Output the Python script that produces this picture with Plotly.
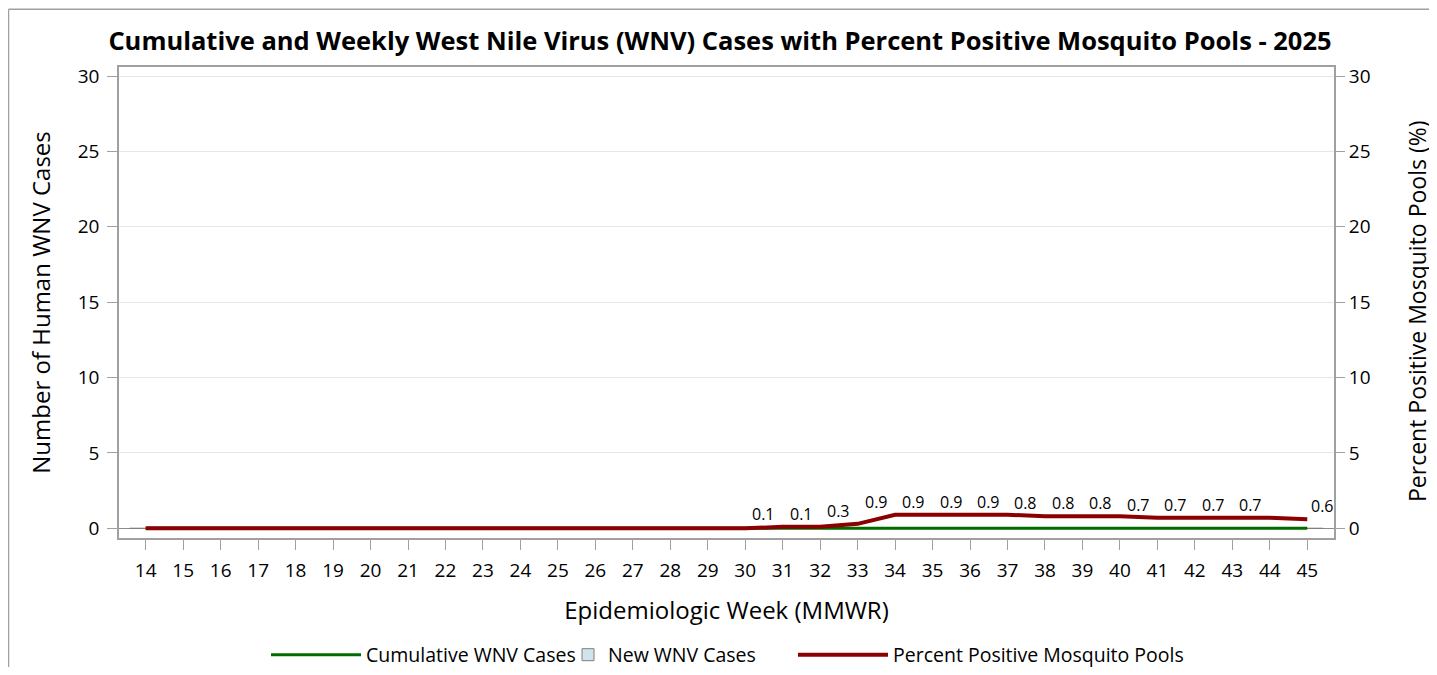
import plotly.graph_objects as go

# ---- data ----
weeks = list(range(14, 46))
cumulative_cases = [0] * 32
new_cases = [0] * 32
pct_positive = [0, 0, 0, 0, 0, 0, 0, 0, 0, 0, 0, 0, 0, 0, 0, 0, 0,
                0.1, 0.1, 0.3, 0.9, 0.9, 0.9, 0.9, 0.8, 0.8, 0.8,
                0.7, 0.7, 0.7, 0.7, 0.6]
y_ticks = [0, 5, 10, 15, 20, 25, 30]

title_text = ("Cumulative and Weekly West Nile Virus (WNV) Cases with "
              "Percent Positive Mosquito Pools - 2025")
y2_title = "Percent Positive Mosquito Pools (%)"

FONT = "Open Sans, Noto Sans, DejaVu Sans, sans-serif"
AXIS_GRAY = "#a0a0a0"
GRID = "#e6e6e6"
RED = "#8b0000"
GREEN = "#006b00"

# sized so the page (with the browser's 8px body margin) does not overflow the window
W, H = 1421, 659
ML, MR, MT, MB = 111, 95, 59, 129
pw, ph = W - ML - MR, H - MT - MB

fig = go.Figure()

fig.add_trace(go.Scatter(
    x=weeks, y=cumulative_cases, name="Cumulative WNV Cases", mode="lines",
    line=dict(color=GREEN, width=3), yaxis="y", legend="legend", showlegend=True,
))
fig.add_trace(go.Bar(
    x=weeks, y=new_cases, name="New WNV Cases",
    marker=dict(color="#cfe4ec", line=dict(color="#7f7f7f", width=1)),
    width=0.85, yaxis="y", legend="legend2", showlegend=True,
))
fig.add_trace(go.Scatter(
    x=weeks, y=pct_positive, name="Percent Positive Mosquito Pools", mode="lines",
    line=dict(color=RED, width=4), yaxis="y2", legend="legend3", showlegend=True,
))

# data labels for non-zero percent values
annotations = []
for i, (wk, v) in enumerate(zip(weeks, pct_positive)):
    if v > 0:
        last = i == len(weeks) - 1
        annotations.append(dict(
            x=wk, y=v, xref="x", yref="y2", text=f"{v:.1f}", showarrow=False,
            xshift=15 if last else -19, yshift=13,
            font=dict(family=FONT, size=16, color="#000"),
        ))

# right axis title (as text so it does not push the plot margins)
annotations.append(dict(
    text=y2_title, textangle=-90, showarrow=False,
    xref="paper", yref="paper", x=(1409 - ML) / pw, y=(ph - (303 - MT)) / ph,
    xanchor="center", yanchor="middle",
    font=dict(family=FONT, size=23, color="#000"),
))

def leg(x_px, itemwidth):
    return dict(orientation="h", x=x_px / W, xref="container", xanchor="left",
                y=12 / H, yref="container", yanchor="middle", itemwidth=itemwidth,
                font=dict(family=FONT, size=19.5, color="#000"),
                bgcolor="rgba(0,0,0,0)", borderwidth=0)

yr = [-0.64, 30.6]
fig.update_layout(
    width=W, height=H,
    showlegend=True,
    margin=dict(l=ML, r=MR, t=MT, b=MB, autoexpand=False),
    paper_bgcolor="white", plot_bgcolor="white",
    font=dict(family=FONT, size=19, color="#000"),
    title=dict(text=f"<b>{title_text}</b>", x=712 / W, xref="container", xanchor="center",
               y=1 - 33 / H, yanchor="middle", yref="container",
               font=dict(family=FONT, size=25.5, color="#000")),
    xaxis=dict(range=[13.287, 45.713], tickmode="array", tickvals=weeks,
               ticks="outside", ticklen=10, tickcolor=AXIS_GRAY, tickwidth=1,
               showline=True, linecolor=AXIS_GRAY, linewidth=1.5, mirror=True,
               showgrid=False, zeroline=False, ticklabelstandoff=4,
               title=dict(text="Epidemiologic Week (MMWR)", font=dict(size=24), standoff=21),
               tickfont=dict(size=19)),
    yaxis=dict(range=yr, tickmode="array", tickvals=y_ticks,
               ticks="outside", ticklen=10, tickcolor=AXIS_GRAY, tickwidth=1,
               showline=True, linecolor=AXIS_GRAY, linewidth=1.5, mirror=True,
               showgrid=True, gridcolor=GRID, gridwidth=1,
               zeroline=True, zerolinecolor="#8c8c8c", zerolinewidth=1,
               ticklabelstandoff=4,
               title=dict(text="Number of Human WNV Cases", font=dict(size=24), standoff=20),
               tickfont=dict(size=19)),
    yaxis2=dict(range=yr, tickmode="array", tickvals=y_ticks, overlaying="y", side="right",
                ticks="outside", ticklen=10, tickcolor=AXIS_GRAY, tickwidth=1,
                showline=False, showgrid=False, zeroline=False,
                tickfont=dict(size=19)),
    legend=leg(258, 90),
    legend2=leg(560, 30),
    legend3=leg(785, 90),
    annotations=annotations,
    bargap=0.15,
)

# outer frame of the graphic: only its left and top edges fall inside the view
xl = (0.5 - ML) / pw
xr = (W + 30 - ML) / pw
yt = (ph - (1.25 - MT)) / ph
yb = (ph - (H + 30 - MT)) / ph
frame = dict(color=AXIS_GRAY, width=1.5)
fig.add_shape(type="line", xref="paper", yref="paper", x0=xl, x1=xl, y0=yb, y1=yt, line=frame)
fig.add_shape(type="line", xref="paper", yref="paper", x0=xl, x1=xr, y0=yt, y1=yt, line=frame)

fig.write_html("out.html")
